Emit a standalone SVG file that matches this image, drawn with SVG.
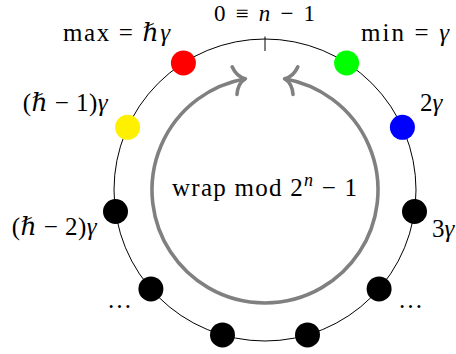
<svg xmlns="http://www.w3.org/2000/svg" width="456" height="354" viewBox="0 0 456 354">
<style>
.t{font-family:"Liberation Serif","DejaVu Serif",serif;font-size:25px;fill:#000}
.m{font-style:italic}
.ring{fill:none;stroke:#000;stroke-width:1}
.wrap{fill:none;stroke:#808080;stroke-width:3.6}
.dot{stroke:none}
</style>
<defs>
<marker id="chev" markerUnits="userSpaceOnUse" orient="auto-start-reverse" viewBox="-16 -18 20 36" markerWidth="20" markerHeight="36" refX="0" refY="0" overflow="visible">
<path d="M -11 -14 C -9 -6 -4 -1.5 0 0 C -4 1.5 -9 6 -11 14" fill="none" stroke="#808080" stroke-width="3.6" stroke-linecap="round" stroke-linejoin="round"/>
</marker>
</defs>
<g id="connectors">
<circle class="ring" cx="265" cy="190" r="151"/>
<line x1="265" y1="36.5" x2="265" y2="51" stroke="#000" stroke-width="1"/>
<path id="wrap-arc" class="wrap" d="M 284.6 78.7 A 113 113 0 1 1 245.4 78.7" marker-start="url(#chev)" marker-end="url(#chev)"/>
</g>
<g id="node-top"><text class="t" x="214" y="20.5" style="font-size:23px" textLength="101" lengthAdjust="spacing">0 ≡ <tspan class="m">n</tspan> − 1</text></g>
<g id="node-1"><circle class="dot" cx="346.6" cy="63" r="12.5" fill="#00ff00"/><text class="t" x="361" y="41" textLength="88" lengthAdjust="spacing">min = <tspan class="m">γ</tspan></text></g>
<g id="node-2"><circle class="dot" cx="402.4" cy="127.3" r="12.5" fill="#0000ff"/><text class="t" x="420" y="110.5">2<tspan class="m">γ</tspan></text></g>
<g id="node-3"><circle class="dot" cx="414.5" cy="211.5" r="12.5" fill="#000"/><text class="t" x="432" y="236.5">3<tspan class="m">γ</tspan></text></g>
<g id="node-4"><circle class="dot" cx="379.1" cy="288.9" r="12.5" fill="#000"/><text class="t" x="410.5" y="308" text-anchor="middle">…</text></g>
<g id="node-5"><circle class="dot" cx="307.5" cy="334.9" r="12.5" fill="#000"/></g>
<g id="node-6"><circle class="dot" cx="222.5" cy="334.9" r="12.5" fill="#000"/></g>
<g id="node-7"><circle class="dot" cx="150.9" cy="288.9" r="12.5" fill="#000"/><text class="t" x="119.5" y="308" text-anchor="middle">…</text></g>
<g id="node-8"><circle class="dot" cx="115.5" cy="211.5" r="12.5" fill="#000"/><text class="t" x="11.7" y="235" textLength="85" lengthAdjust="spacing">(<tspan class="m">ℏ</tspan> − 2)<tspan class="m">γ</tspan></text></g>
<g id="node-9"><circle class="dot" cx="127.6" cy="127.3" r="12.5" fill="#fff000"/><text class="t" x="22.7" y="111" textLength="85" lengthAdjust="spacing">(<tspan class="m">ℏ</tspan> − 1)<tspan class="m">γ</tspan></text></g>
<g id="node-10"><circle class="dot" cx="183.4" cy="63" r="12.5" fill="#ff0000"/><text class="t" x="63" y="40.7" textLength="107" lengthAdjust="spacing">max = <tspan class="m">ℏγ</tspan></text></g>
<g id="label-wrap"><text class="t" x="172" y="196" textLength="185" lengthAdjust="spacing">wrap mod 2<tspan class="m" font-size="18" dy="-10">n</tspan><tspan dy="10"> − 1</tspan></text></g>
</svg>
